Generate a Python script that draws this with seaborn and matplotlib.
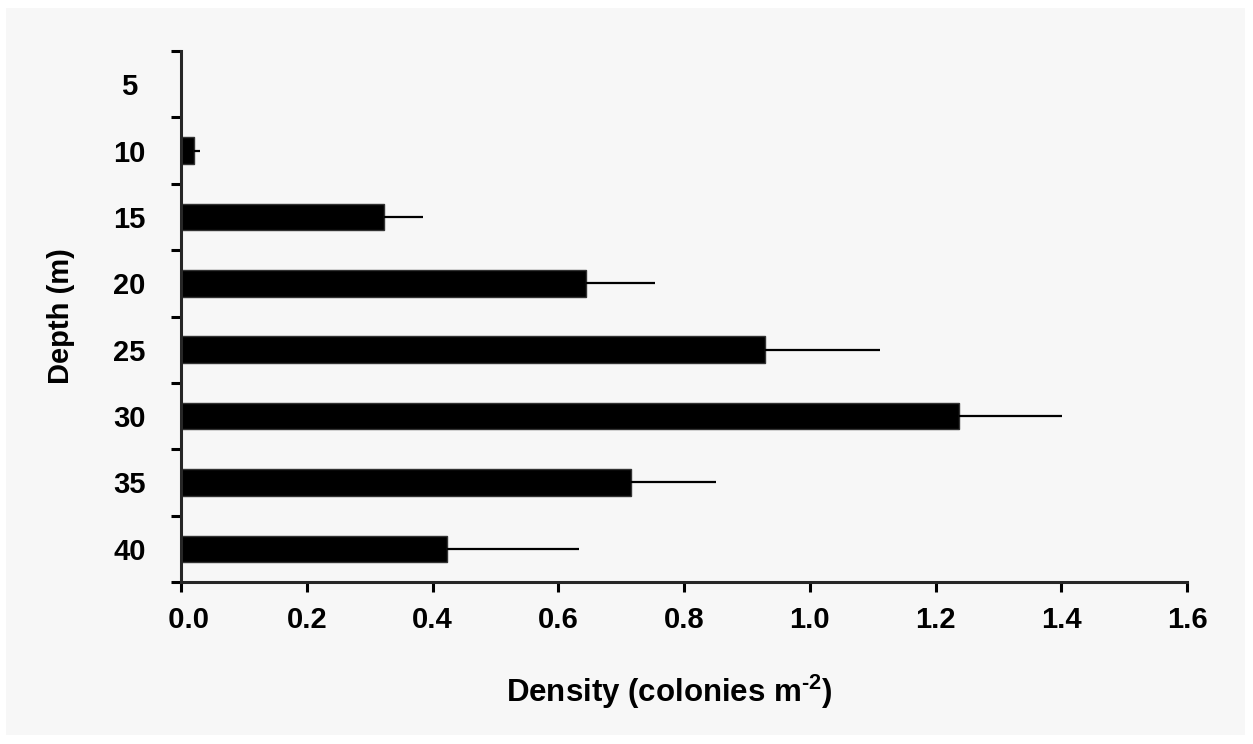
import numpy as np
import pandas as pd
import seaborn as sns
import matplotlib.pyplot as plt
from matplotlib.patches import Rectangle

# data
depth = ['5', '10', '15', '20', '25', '30', '35', '40']
density = [0.0, 0.02, 0.323, 0.644, 0.929, 1.237, 0.716, 0.423]
err_up = [0.0, 0.011, 0.062, 0.11, 0.183, 0.164, 0.135, 0.21]

df = pd.DataFrame({'Depth': depth, 'Density': density})

sns.set_style('ticks')
plt.rcParams['font.family'] = ['Liberation Sans', 'DejaVu Sans']
plt.rcParams['font.weight'] = 'bold'
plt.rcParams['text.color'] = 'black'
plt.rcParams['axes.labelcolor'] = 'black'
plt.rcParams['xtick.color'] = 'black'
plt.rcParams['ytick.color'] = 'black'
plt.rcParams['mathtext.fontset'] = 'custom'
plt.rcParams['mathtext.rm'] = 'Liberation Sans:bold'
plt.rcParams['mathtext.bf'] = 'Liberation Sans:bold'

fig = plt.figure(figsize=(12.53, 7.44), dpi=100)
fig.patch.set_facecolor('white')
fig.patches.append(Rectangle((6 / 1253, 9 / 744), 1239 / 1253, 727 / 744,
                             transform=fig.transFigure, facecolor='#f7f7f7',
                             edgecolor='none', zorder=-10))
ax = fig.add_axes([181 / 1253, 1 - 582 / 744, 1006 / 1253, 531 / 744])
ax.set_facecolor('none')

sns.barplot(data=df, x='Density', y='Depth', order=depth, orient='h',
            color='black', width=0.4, edgecolor='#333333', linewidth=1,
            errorbar=None, ax=ax)

# one-sided error bars (no caps)
ax.errorbar(density, np.arange(len(depth)), xerr=[np.zeros(len(depth)), err_up],
            fmt='none', ecolor='black', elinewidth=1.6, capsize=0)

ax.set_xlim(0, 1.6)
ax.set_ylim(len(depth) - 0.5, -0.5)
xt = np.arange(0, 1.61, 0.2)
xlabels = [f'{v:.1f}' for v in xt]
xlabels[0] = '  ' + xlabels[0]   # first label sits a bit right of its tick
ax.set_xticks(xt)
ax.set_xticklabels(xlabels, fontsize=21, fontweight='bold')

# category labels at centres, ticks at the boundaries
ax.set_yticks(np.arange(len(depth)))
ax.set_yticklabels(depth, fontsize=21, fontweight='bold', ha='center')
ax.set_yticks(np.arange(-0.5, len(depth)), minor=True)
ax.tick_params(axis='y', which='major', length=0, pad=37)
ax.tick_params(axis='y', which='minor', length=7, width=2.2, direction='out')
ax.tick_params(axis='x', which='major', length=7, width=2.2, pad=10, direction='out')

for s in ['top', 'right']:
    ax.spines[s].set_visible(False)
for s in ['left', 'bottom']:
    ax.spines[s].set_linewidth(2.2)

ax.set_xlabel('Density (colonies m$^{\\mathrm{\u2010}\\mathrm{2}}$)', fontsize=22.5, fontweight='bold')
ax.set_ylabel('Depth (m)', fontsize=21, fontweight='bold')
ax.xaxis.set_label_coords(0.485, -0.17)
ax.yaxis.set_label_coords(-0.105, 0.5)

fig.savefig('out.png', dpi=100)
